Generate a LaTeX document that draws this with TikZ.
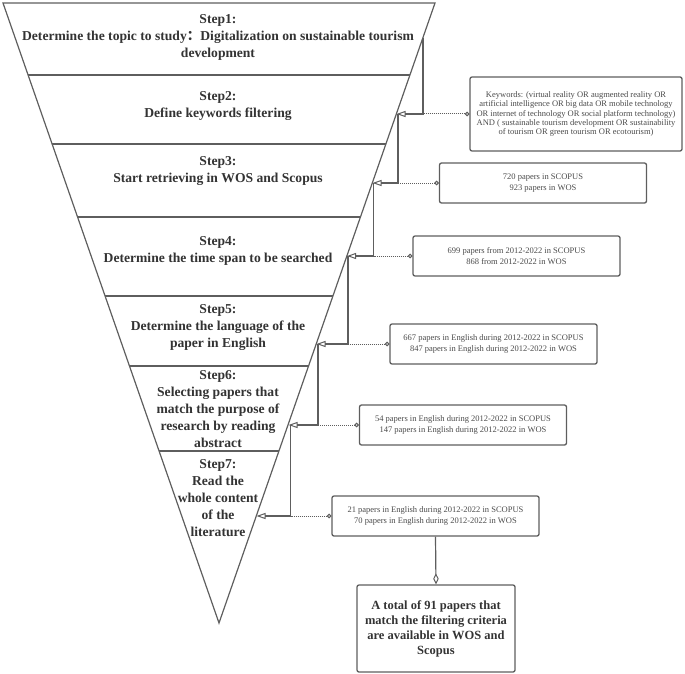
\documentclass[tikz,border=0pt]{standalone}
\usepackage{fontspec}
\setmainfont{Liberation Serif}
\newfontfamily\cjk{Noto Sans CJK SC}
\usetikzlibrary{arrows.meta}
\definecolor{lin}{HTML}{5E5E5E}
\definecolor{steptxt}{HTML}{333333}
\definecolor{boxtxt}{HTML}{4A4A4A}
\tikzset{
  funnel/.style={draw=lin, line width=1.2pt, line join=miter},
  divider/.style={draw=lin, line width=1.2pt},
  steptext/.style={align=center, text=steptxt, font=\fontsize{13.6}{17}\selectfont\bfseries, inner sep=0pt},
  infobox/.style={draw=lin, line width=1.3pt, rounded corners=2pt, align=center, text=boxtxt,
     font=\fontsize{8.5}{10.8}\selectfont, minimum width=207pt, minimum height=40pt, inner sep=2pt},
  conn/.style={draw=lin, line width=1.2pt, -{Triangle[open,length=9pt,width=6pt,line width=1pt]}},
  dotc/.style={draw=lin, line width=1pt, dash pattern=on 1pt off 1pt,
     {Circle[open,length=4.5pt,line width=1pt]}-},
  finalbox/.style={draw=lin, line width=1.3pt, rounded corners=2pt, align=center, text=steptxt,
     font=\fontsize{12.5}{15}\selectfont\bfseries, minimum width=158pt, minimum height=87pt, inner sep=2pt},
  diam/.style={draw=lin, line width=1.2pt, -{Diamond[open,length=11pt,width=5.5pt,line width=1pt]}}
}
\begin{document}
\begin{tikzpicture}[x=1pt,y=-1pt]
\useasboundingbox (0,0) rectangle (685,674);
% funnel
\draw[funnel] (3,3) -- (435,3) -- (219,623) -- cycle;
\draw[divider] (28.1,75) -- (409.9,75);
\draw[divider] (52.1,144) -- (385.9,144);
\draw[divider] (77.6,217) -- (360.4,217);
\draw[divider] (105.1,296) -- (332.9,296);
\draw[divider] (129.5,366) -- (308.5,366);
\draw[divider] (159.1,451) -- (278.9,451);
% step texts
\node[steptext] (s1) at (218,37) {Step1:\\Determine the topic to study{\cjk ：}Digitalization on sustainable tourism\\development};
\node[steptext] (s2) at (218,105.5) {Step2:\\Define keywords filtering};
\node[steptext] (s3) at (218,171) {Step3:\\Start retrieving in WOS and Scopus};
\node[steptext] (s4) at (218,251) {Step4:\\Determine the time span to be searched};
\node[steptext] (s5) at (218,327.5) {Step5:\\Determine the language of the\\paper in English};
\node[steptext] (s6) at (218,409.5) {Step6:\\Selecting papers that\\match the purpose of\\research by reading\\abstract};
\node[steptext] (s7) at (218,498.5) {Step7:\\Read the\\whole content\\of the\\literature};
% info boxes
\node[infobox, minimum width=212pt, minimum height=74pt, font=\fontsize{8.5}{9.4}\selectfont] (b2) at (576,114)
  {Keywords: (virtual reality OR augmented reality OR\\artificial intelligence OR big data OR mobile technology\\OR internet of technology OR social platform technology)\\AND ( sustainable tourism development OR sustainability\\of tourism OR green tourism OR ecotourism)};
\node[infobox] (b3) at (543,183) {720 papers in SCOPUS\\923 papers in WOS};
\node[infobox] (b4) at (516.5,256) {699 papers from 2012-2022 in SCOPUS\\868 from 2012-2022 in WOS};
\node[infobox] (b5) at (493.5,344) {667 papers in English during 2012-2022 in SCOPUS\\847 papers in English during 2012-2022 in WOS};
\node[infobox] (b6) at (463,425) {54 papers in English during 2012-2022 in SCOPUS\\147 papers in English during 2012-2022 in WOS};
\node[infobox] (b7) at (435.5,516) {21 papers in English during 2012-2022 in SCOPUS\\70 papers in English during 2012-2022 in WOS};
\node[finalbox] (fin) at (436,628.5) {A total of 91 papers that\\match the filtering criteria\\are available in WOS and\\Scopus};
% connector points on the funnel edge
\coordinate (j2) at (423,38);
\coordinate (t2) at (396.5,114);
\coordinate (j3) at (398,114);
\coordinate (t3) at (372.5,183);
\coordinate (j4) at (373.5,183);
\coordinate (t4) at (347,256);
\coordinate (j5) at (348,256);
\coordinate (t5) at (316.5,344);
\coordinate (j6) at (318,344);
\coordinate (t6) at (288.5,425);
\coordinate (j7) at (290.5,425);
\coordinate (t7) at (256.5,516);
% solid connectors into the funnel
\draw[conn] (j2) |- (t2);
\draw[conn] (j3) |- (t3);
\draw[conn] (j4) |- (t4);
\draw[conn] (j5) |- (t5);
\draw[conn] (j6) |- (t6);
\draw[conn] (j7) |- (t7);
% dotted connectors from boxes
\draw[dotc] (b2.west) -- (b2.west -| j2);
\draw[dotc] (b3.west) -- (b3.west -| j3);
\draw[dotc] (b4.west) -- (b4.west -| j4);
\draw[dotc] (b5.west) -- (b5.west -| j5);
\draw[dotc] (b6.west) -- (b6.west -| j6);
\draw[dotc] (b7.west) -- (b7.west -| j7);
% final connector
\draw[diam] (b7.south) -- (fin.north);
\end{tikzpicture}
\end{document}
